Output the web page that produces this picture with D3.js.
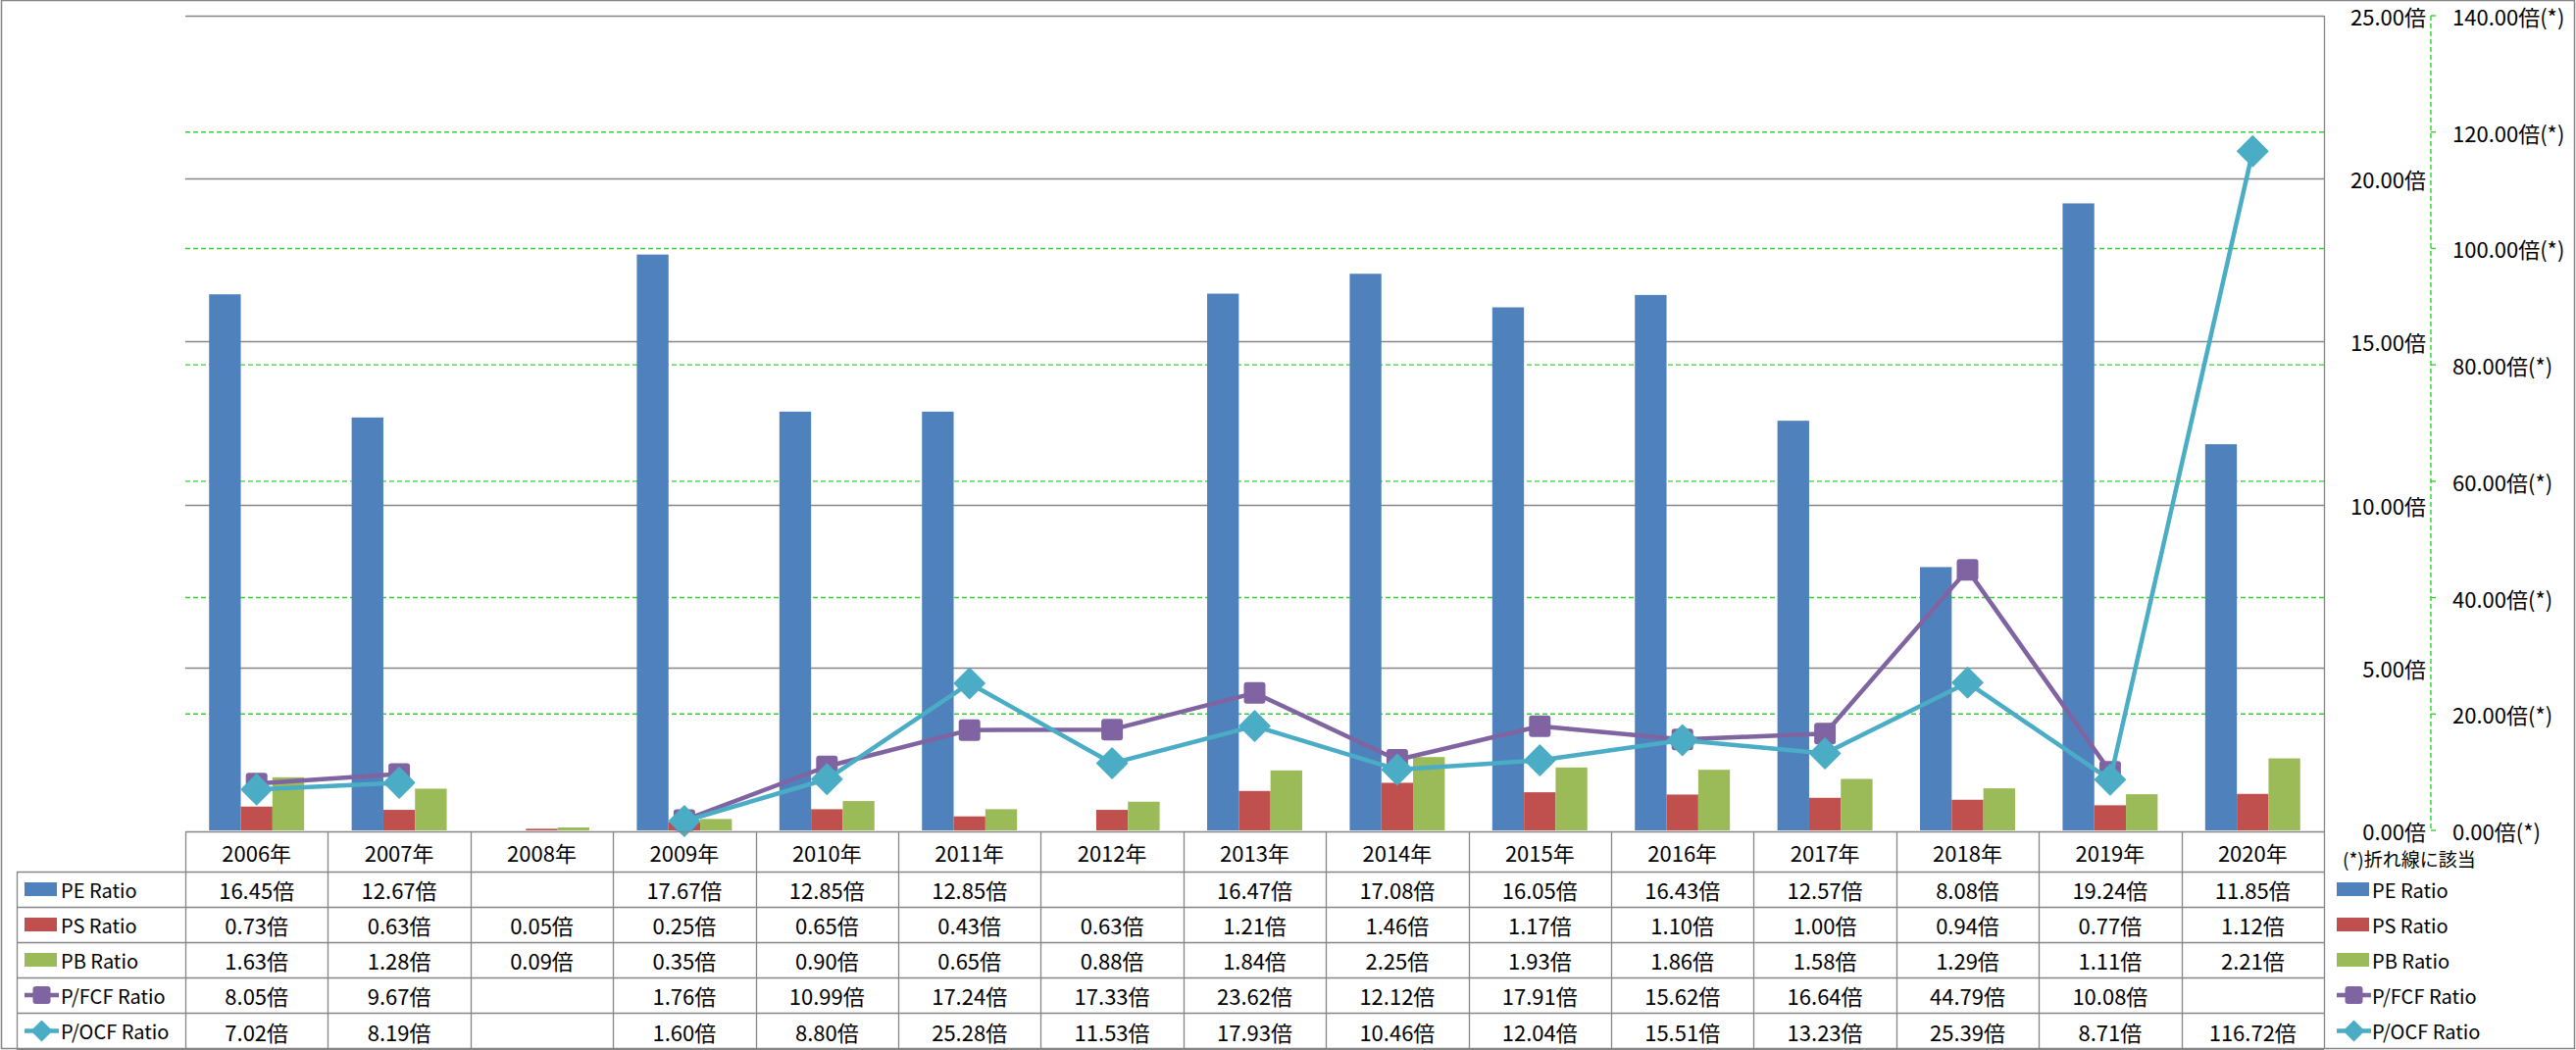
<!DOCTYPE html>
<html><head><meta charset="utf-8">
<script src="https://cdn.jsdelivr.net/npm/d3@7"></script>
<style>
html,body{margin:0;padding:0;background:#fff;}
svg{display:block;font-family:"Noto Sans CJK JP","Noto Sans",sans-serif;}
</style></head>
<body>
<svg id="chart" width="2627" height="1071"></svg>
<script>
const years = ["2006年","2007年","2008年","2009年","2010年","2011年","2012年","2013年","2014年","2015年","2016年","2017年","2018年","2019年","2020年"];
const peRatio  = [16.45,12.67,null,17.67,12.85,12.85,null,16.47,17.08,16.05,16.43,12.57,8.08,19.24,11.85];
const psRatio  = [0.73,0.63,0.05,0.25,0.65,0.43,0.63,1.21,1.46,1.17,1.10,1.00,0.94,0.77,1.12];
const pbRatio  = [1.63,1.28,0.09,0.35,0.90,0.65,0.88,1.84,2.25,1.93,1.86,1.58,1.29,1.11,2.21];
const pfcfRatio = [8.05,9.67,null,1.76,10.99,17.24,17.33,23.62,12.12,17.91,15.62,16.64,44.79,10.08,null];
const pocfRatio = [7.02,8.19,null,1.60,8.80,25.28,11.53,17.93,10.46,12.04,15.51,13.23,25.39,8.71,116.72];
const leftTicks = [0,5,10,15,20,25];
const rightTicks = [0,20,40,60,80,100,120,140];
const seriesNames = ["PE Ratio","PS Ratio","PB Ratio","P/FCF Ratio","P/OCF Ratio"];

const C = {blue:"#4F81BD", red:"#C0504D", green:"#9BBB59", purple:"#8064A2", cyan:"#4BACC6",
           grid:"#868686", dash:"#22dd22"};
const L = {left:189, right:2370, top:16, bottom:847, axisX:2479};

const svg = d3.select("#chart");
const x = d3.scaleBand().domain(years).range([L.left, L.right]).paddingInner(0).paddingOuter(0);
const y1 = d3.scaleLinear().domain([0,25]).range([L.bottom, L.top]);
const y2 = d3.scaleLinear().domain([0,140]).range([L.bottom, L.top]);
const bw = x.bandwidth();
const barW = bw/4.5;
const inner = d3.scaleBand().domain([0,1,2]).range([bw*0.75/4.5, bw*0.75/4.5 + 3*barW]);

// outer border
svg.append("rect").attr("x",1.5).attr("y",0.5).attr("width",2624).attr("height",1069)
  .attr("fill","#fff").attr("stroke",C.grid).attr("stroke-width",1.5);

// secondary dashed gridlines
svg.append("g").selectAll("line").data(rightTicks.filter(v=>v>0 && v<140)).join("line")
  .attr("x1",L.left).attr("x2",L.right).attr("y1",d=>y2(d)).attr("y2",d=>y2(d))
  .attr("stroke",C.dash).attr("stroke-width",1.4).attr("stroke-dasharray","5,3");
// primary gridlines
svg.append("g").selectAll("line").data(leftTicks.filter(v=>v>0)).join("line")
  .attr("x1",L.left).attr("x2",L.right).attr("y1",d=>Math.round(y1(d))+0.5).attr("y2",d=>Math.round(y1(d))+0.5)
  .attr("stroke",C.grid).attr("stroke-width",1.3);

// bars
const barSeries = [peRatio, psRatio, pbRatio];
const barColors = [C.blue, C.red, C.green];
barSeries.forEach((arr,si)=>{
  svg.append("g").selectAll("rect").data(arr.map((v,i)=>({v,i})).filter(d=>d.v!=null)).join("rect")
    .attr("x",d=>x(years[d.i])+inner(si)).attr("width",barW)
    .attr("y",d=>y1(d.v)).attr("height",d=>y1(0)-y1(d.v))
    .attr("fill",barColors[si]);
});

// lines
function drawLine(arr,color,marker){
  const pts = arr.map((v,i)=>({v,i}));
  const line = d3.line().defined(d=>d.v!=null).x(d=>x(years[d.i])+bw/2).y(d=>y2(d.v));
  svg.append("path").datum(pts).attr("d",line).attr("fill","none").attr("stroke",color)
    .attr("stroke-width",4.5).attr("stroke-linejoin","round");
  const g = svg.append("g");
  pts.filter(d=>d.v!=null).forEach(d=>{
    drawMarker(g, x(years[d.i])+bw/2, y2(d.v), color, marker, 22, 15.5);
  });
}
function drawMarker(g,cx,cy,color,marker,s,r){
  if(marker==="square"){
    g.append("rect").attr("x",cx-s/2).attr("y",cy-s/2).attr("width",s).attr("height",s)
      .attr("rx",3).attr("fill",color);
  } else {
    g.append("path").attr("d",`M${cx},${cy-r}L${cx+r},${cy}L${cx},${cy+r}L${cx-r},${cy}Z`)
      .attr("fill",color).attr("stroke",color).attr("stroke-width",1.5).attr("stroke-linejoin","round");
  }
}
drawLine(pfcfRatio, C.purple, "square");
drawLine(pocfRatio, C.cyan, "diamond");

// right border of plot/table
svg.append("line").attr("x1",L.right+0.5).attr("x2",L.right+0.5).attr("y1",L.top).attr("y2",1070)
  .attr("stroke",C.grid).attr("stroke-width",1.3);

// primary axis labels
svg.append("g").selectAll("text").data(leftTicks).join("text")
  .attr("x",2474).attr("y",d=>y1(d)).attr("text-anchor","end").attr("dominant-baseline","central")
  .attr("font-size",22).attr("fill","#000").text(d=>d3.format(".2f")(d)+"倍");

// secondary axis
svg.append("line").attr("x1",L.axisX).attr("x2",L.axisX).attr("y1",L.top).attr("y2",L.bottom)
  .attr("stroke",C.dash).attr("stroke-width",1.4).attr("stroke-dasharray","5,3");
svg.append("g").selectAll("line").data(rightTicks).join("line")
  .attr("x1",L.axisX).attr("x2",L.axisX+5).attr("y1",d=>y2(d)).attr("y2",d=>y2(d))
  .attr("stroke",C.dash).attr("stroke-width",1.4);
svg.append("g").selectAll("text").data(rightTicks).join("text")
  .attr("x",2501).attr("y",d=>y2(d)).attr("dominant-baseline","central")
  .attr("font-size",22).attr("fill","#000").text(d=>d3.format(".2f")(d)+"倍(*)");
svg.append("text").attr("x",2389).attr("y",875).attr("dominant-baseline","central")
  .attr("font-size",19).attr("fill","#000").text("(*)折れ線に該当");

// data table
const rowTop = [848,889,925,961,997,1033,1070];
const tbl = svg.append("g");
tbl.append("line").attr("x1",L.left).attr("x2",L.right).attr("y1",rowTop[0]+0.5).attr("y2",rowTop[0]+0.5)
  .attr("stroke",C.grid).attr("stroke-width",1.3);
rowTop.slice(1).forEach(yy=>{
  tbl.append("line").attr("x1",17).attr("x2",L.right).attr("y1",yy+0.5).attr("y2",yy+0.5)
    .attr("stroke",C.grid).attr("stroke-width",1.3);
});
years.forEach(yr=>{
  tbl.append("line").attr("x1",Math.round(x(yr))+0.5).attr("x2",Math.round(x(yr))+0.5)
    .attr("y1",rowTop[0]).attr("y2",1070).attr("stroke",C.grid).attr("stroke-width",1.3);
});
tbl.append("line").attr("x1",17.5).attr("x2",17.5).attr("y1",rowTop[1]).attr("y2",1070)
  .attr("stroke",C.grid).attr("stroke-width",1.3);
tbl.selectAll("text.yr").data(years).join("text").attr("class","yr")
  .attr("x",d=>x(d)+bw/2).attr("y",(rowTop[0]+rowTop[1])/2).attr("text-anchor","middle")
  .attr("dominant-baseline","central").attr("font-size",22).text(d=>d);
const allSeries = [peRatio,psRatio,pbRatio,pfcfRatio,pocfRatio];
allSeries.forEach((arr,si)=>{
  const cy = (rowTop[si+1]+rowTop[si+2])/2;
  tbl.append("g").selectAll("text").data(arr.map((v,i)=>({v,i})).filter(d=>d.v!=null)).join("text")
    .attr("x",d=>x(years[d.i])+bw/2).attr("y",cy).attr("text-anchor","middle")
    .attr("dominant-baseline","central").attr("font-size",22).text(d=>d3.format(".2f")(d.v)+"倍");
});
const keyColors = [C.blue,C.red,C.green,C.purple,C.cyan];
function legendItem(kx,tx,si){
  const cy = (rowTop[si+1]+rowTop[si+2])/2;
  if(si<3){
    svg.append("rect").attr("x",kx).attr("y",cy-7).attr("width",33).attr("height",14).attr("fill",keyColors[si]);
  } else {
    svg.append("line").attr("x1",kx).attr("x2",kx+35).attr("y1",cy).attr("y2",cy)
      .attr("stroke",keyColors[si]).attr("stroke-width",4.5);
    drawMarker(svg, kx+17.5, cy, keyColors[si], si===3?"square":"diamond", 18, 10);
  }
  svg.append("text").attr("x",tx).attr("y",cy).attr("dominant-baseline","central")
    .attr("font-size",20).attr("fill","#000").text(seriesNames[si]);
}
seriesNames.forEach((n,si)=>{ legendItem(25,62,si); legendItem(2383,2419,si); });
</script>
</body></html>
